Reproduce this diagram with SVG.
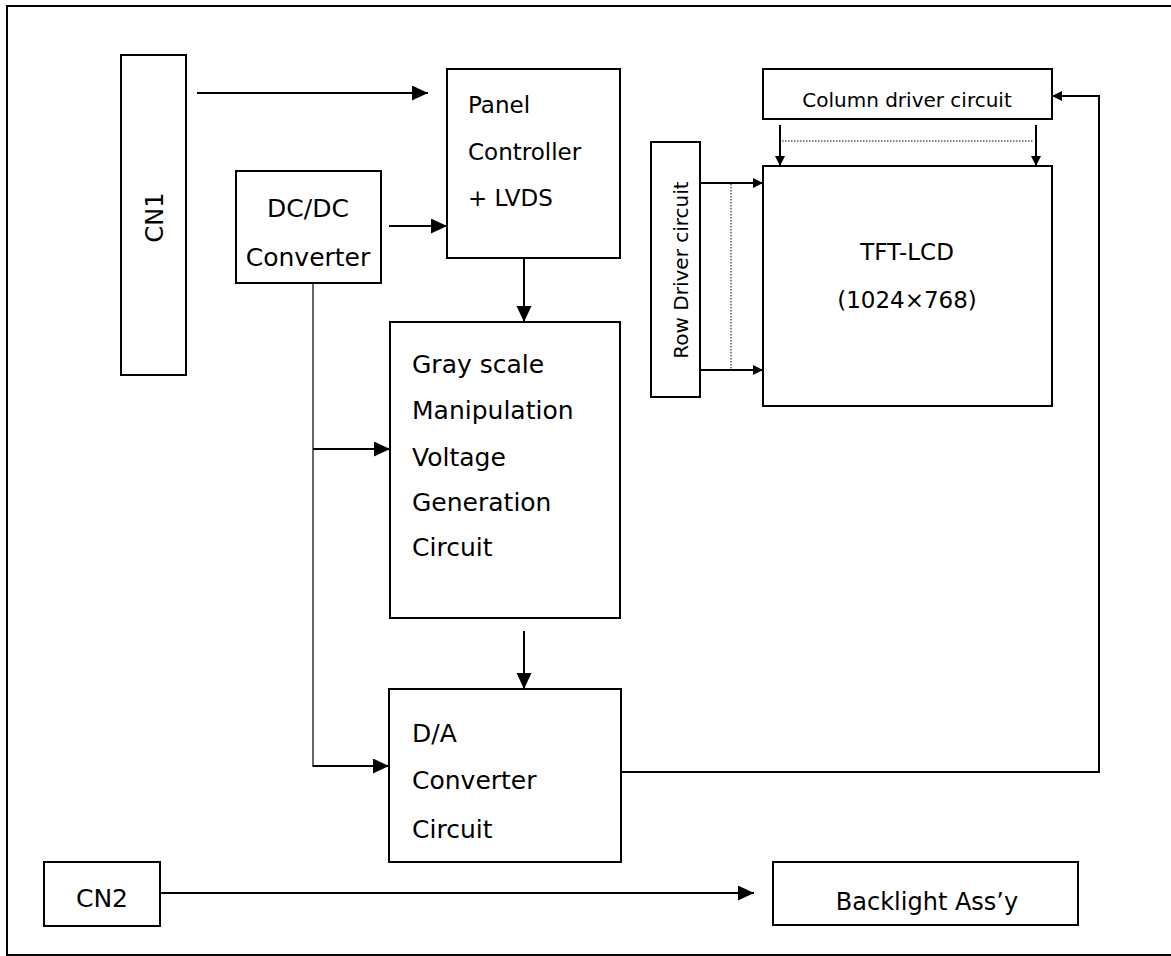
<svg xmlns="http://www.w3.org/2000/svg" width="1171" height="956" viewBox="0 0 1171 956">
<style>
.box{fill:#fff;stroke:#000;stroke-width:2}
.t{font-family:"DejaVu Sans",sans-serif;fill:#000}
.ln{fill:none;stroke:#000;stroke-width:2}
.thin{fill:none;stroke:#000;stroke-width:1.2}
.dot{fill:none;stroke:#000;stroke-width:1;stroke-dasharray:1.5 1.5}
</style>
<defs>
<marker id="big" markerUnits="userSpaceOnUse" markerWidth="16" markerHeight="16" refX="16" refY="7.5" orient="auto"><path d="M0,0 L16,7.5 L0,15 Z" fill="#000"/></marker>
<marker id="small" markerUnits="userSpaceOnUse" markerWidth="10" markerHeight="10" refX="10" refY="5" orient="auto"><path d="M0,0 L10,5 L0,10 Z" fill="#000"/></marker>
</defs>
<rect width="1171" height="956" fill="#fff"/>
<path d="M1171,6 L7,6 L7,955 L1171,955" fill="none" stroke="#000" stroke-width="2"/>

<g id="connectors">
<line class="ln" x1="197" y1="93" x2="428" y2="93" marker-end="url(#big)"/>
<line class="ln" x1="389" y1="226" x2="447" y2="226" marker-end="url(#big)"/>
<line class="ln" x1="524" y1="259" x2="524" y2="322" marker-end="url(#big)"/>
<line class="ln" x1="524" y1="631" x2="524" y2="689" marker-end="url(#big)"/>
<line class="thin" x1="313" y1="283" x2="313" y2="766"/>
<line class="ln" x1="313" y1="449" x2="390" y2="449" marker-end="url(#big)"/>
<line class="ln" x1="312.5" y1="766" x2="389" y2="766" marker-end="url(#big)"/>
<polyline class="ln" points="621,772 1099,772 1099,96 1052,96" marker-end="url(#small)"/>
<line class="ln" x1="160" y1="893" x2="754" y2="893" marker-end="url(#big)"/>
<line class="ln" x1="780" y1="125" x2="780" y2="166" marker-end="url(#small)"/>
<line class="ln" x1="1036" y1="125" x2="1036" y2="166" marker-end="url(#small)"/>
<line class="dot" x1="782" y1="141" x2="1034" y2="141"/>
<line class="ln" x1="700" y1="183" x2="763" y2="183" marker-end="url(#small)"/>
<line class="ln" x1="700" y1="370" x2="763" y2="370" marker-end="url(#small)"/>
<line class="dot" x1="731" y1="184" x2="731" y2="369"/>
</g>

<g id="cn1">
<rect class="box" x="121" y="55" width="65" height="320"/>
<text class="t" font-size="24" text-anchor="middle" transform="translate(163,217.5) rotate(-90)">CN1</text>
</g>
<g id="dcdc">
<rect class="box" x="236" y="171" width="145" height="112"/>
<text class="t" font-size="25" text-anchor="middle" x="308" y="217">DC/DC</text>
<text class="t" font-size="25" text-anchor="middle" x="308" y="266">Converter</text>
</g>
<g id="panel">
<rect class="box" x="447" y="69" width="173" height="189"/>
<text class="t" font-size="23" x="468" y="113">Panel</text>
<text class="t" font-size="23" x="468" y="160">Controller</text>
<text class="t" font-size="23" x="468" y="206">+ LVDS</text>
</g>
<g id="grayscale">
<rect class="box" x="390" y="322" width="230" height="296"/>
<text class="t" font-size="25" x="412" y="373">Gray scale</text>
<text class="t" font-size="25" x="412" y="419">Manipulation</text>
<text class="t" font-size="25" x="412" y="466">Voltage</text>
<text class="t" font-size="25" x="412" y="511">Generation</text>
<text class="t" font-size="25" x="412" y="556">Circuit</text>
</g>
<g id="dac">
<rect class="box" x="389" y="689" width="232" height="173"/>
<text class="t" font-size="25" x="412" y="742">D/A</text>
<text class="t" font-size="25" x="412" y="789">Converter</text>
<text class="t" font-size="25" x="412" y="838">Circuit</text>
</g>
<g id="column">
<rect class="box" x="763" y="69" width="289" height="50"/>
<text class="t" font-size="20" text-anchor="middle" x="907" y="107">Column driver circuit</text>
</g>
<g id="row">
<rect class="box" x="651" y="142" width="49" height="255"/>
<text class="t" font-size="20" text-anchor="middle" transform="translate(688,270) rotate(-90)">Row Driver circuit</text>
</g>
<g id="tft">
<rect class="box" x="763" y="166" width="289" height="240"/>
<text class="t" font-size="23" text-anchor="middle" x="907" y="260">TFT-LCD</text>
<text class="t" font-size="23" text-anchor="middle" x="907" y="308">(1024×768)</text>
</g>
<g id="cn2">
<rect class="box" x="44" y="862" width="116" height="64"/>
<text class="t" font-size="25" text-anchor="middle" x="102" y="907">CN2</text>
</g>
<g id="backlight">
<rect class="box" x="773" y="862" width="305" height="63"/>
<text class="t" font-size="24" text-anchor="middle" x="927" y="910">Backlight Ass’y</text>
</g>
</svg>
